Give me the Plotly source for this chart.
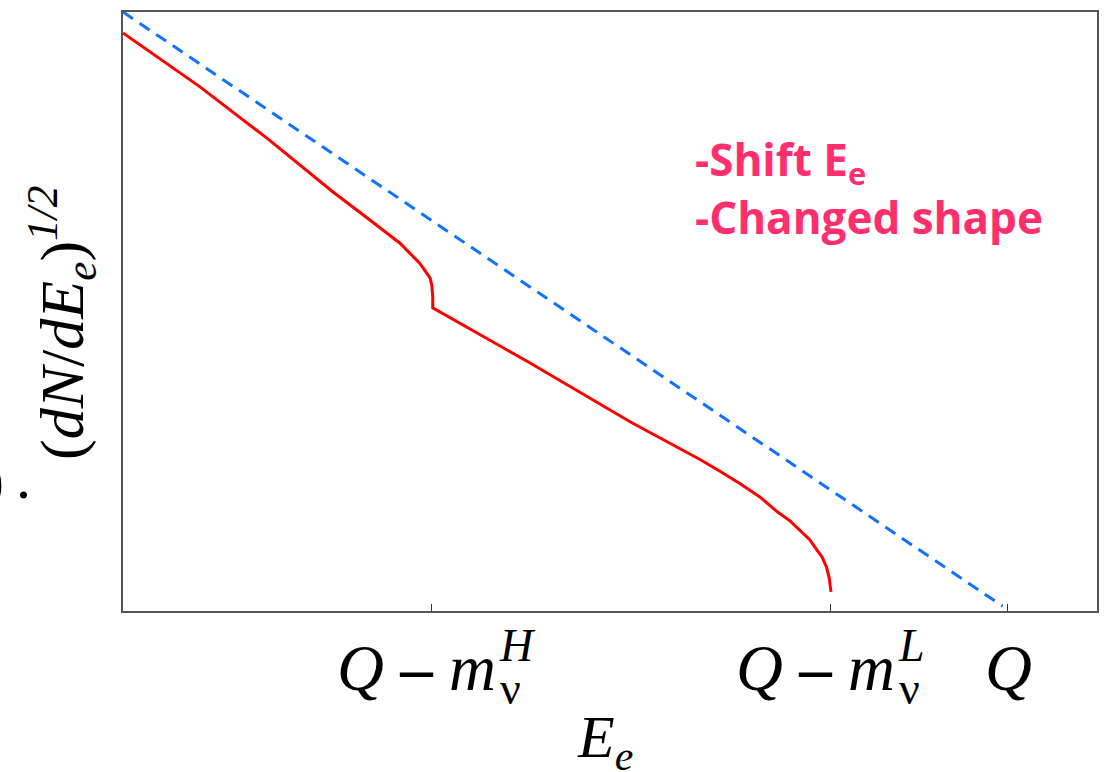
import plotly.graph_objects as go

# Kurie-plot sketch: sqrt(dN/dE_e) versus electron energy, Q normalised to 1
Q = 1.0
m_heavy = 0.651
m_light = 0.200

# massless-neutrino reference (blue, dashed)
ref_E = [0.0, 0.994]
ref_K = [1.000, 0.008]

# two-mass spectrum (red)
mix_E = [0.000, 0.087, 0.163, 0.237, 0.276, 0.313, 0.335, 0.343, 0.347, 0.349,
         0.350, 0.350,
         0.460, 0.573, 0.652, 0.675, 0.697, 0.720, 0.739, 0.754, 0.765,
         0.776, 0.784, 0.790, 0.795, 0.798, 0.800]
mix_K = [0.965, 0.875, 0.789, 0.700, 0.656, 0.614, 0.581, 0.564, 0.556, 0.543,
         0.525, 0.506,
         0.414, 0.316, 0.253, 0.233, 0.213, 0.190, 0.166, 0.150, 0.135,
         0.119, 0.102, 0.090, 0.073, 0.055, 0.032]

tick_vals = [Q - m_heavy, Q - m_light, Q]
tick_main = ["<i>Q</i> <b>–</b> <i>m</i>", "<i>Q</i> <b>–</b> <i>m</i>", "<i>Q</i>"]
tick_sup = ["<i>H</i>", "<i>L</i>", ""]
tick_sub = ["ν", "ν", ""]

notes = ["-Shift E<sub>e</sub>", "-Changed shape"]

W, H = 1113, 772
L, R, T, B = 123, 16, 10, 161
X_MAX = 1.1006

serif = "Liberation Serif, Times New Roman, serif"


def px(x):
    return (x - L) / (W - L - R)


def py(y):
    return (H - B - y) / (H - B - T)


fig = go.Figure()
fig.add_trace(go.Scatter(x=ref_E, y=ref_K, mode="lines",
                         line=dict(color="#1172ff", width=3, dash="12px,8px"),
                         cliponaxis=True, hoverinfo="skip"))
fig.add_trace(go.Scatter(x=mix_E, y=mix_K, mode="lines",
                         line=dict(color="#ff0000", width=3),
                         hoverinfo="skip"))

ann = []
for v, main, sup, sub in zip(tick_vals, tick_main, tick_sup, tick_sub):
    if sup:
        ann.append(dict(x=v, xref="x", y=py(668), yref="paper", text=main,
                        xanchor="right", yanchor="middle", xshift=66,
                        showarrow=False, font=dict(family=serif, size=65, color="black")))
        ann.append(dict(x=v, xref="x", y=py(646), yref="paper", text=sup,
                        xanchor="left", yanchor="middle", xshift=65,
                        showarrow=False, font=dict(family=serif, size=46, color="black")))
        ann.append(dict(x=v, xref="x", y=py(689), yref="paper", text=sub,
                        xanchor="left", yanchor="middle", xshift=66,
                        showarrow=False, font=dict(family=serif, size=46, color="black")))
    else:
        ann.append(dict(x=v, xref="x", y=py(668), yref="paper", text=main,
                        xanchor="center", yanchor="middle", xshift=1,
                        showarrow=False, font=dict(family=serif, size=65, color="black")))

# axis titles
ann.append(dict(x=px(605), y=py(742), xref="paper", yref="paper",
                text="<i>E</i><sub><i>e</i></sub>", showarrow=False,
                xanchor="center", yanchor="middle",
                font=dict(family=serif, size=60, color="black")))
ann.append(dict(x=px(62), y=py(322), xref="paper", yref="paper",
                text="(<i>dN</i>/<i>dE</i><sub><i>e</i></sub>)<sup><i>1/2</i></sup>",
                showarrow=False, textangle=-90,
                xanchor="center", yanchor="middle",
                font=dict(family=serif, size=62, color="black")))
# fragment of neighbouring text at the left edge
ann.append(dict(x=px(6), y=py(480), xref="paper", yref="paper",
                text=")", showarrow=False, xanchor="right", yanchor="middle",
                font=dict(family=serif, size=60, color="black")))
ann.append(dict(x=px(14), y=py(478), xref="paper", yref="paper",
                text=".", showarrow=False, xanchor="left", yanchor="middle",
                font=dict(family=serif, size=60, color="black")))

# pink notes
for i, t in enumerate(notes):
    ann.append(dict(x=px(693), y=py(160 + 56 * i), xref="paper", yref="paper",
                    text=t, showarrow=False, xanchor="left", yanchor="middle",
                    font=dict(family="Open Sans, sans-serif", size=44,
                              color="#ff2f6e", weight="bold")))

axis_common = dict(showgrid=False, zeroline=False, showline=True, mirror=True,
                   linecolor="#555555", linewidth=2)

fig.update_layout(
    width=W, height=H,
    margin=dict(l=L, r=R, t=T, b=B),
    paper_bgcolor="white", plot_bgcolor="white",
    showlegend=False,
    annotations=ann,
    xaxis=dict(range=[0, X_MAX], tickvals=tick_vals, showticklabels=False,
               ticks="inside", ticklen=7, tickwidth=1.2, tickcolor="#333333",
               **axis_common),
    yaxis=dict(range=[0, 1], showticklabels=False, ticks="", **axis_common),
)

fig.write_html("out.html")
